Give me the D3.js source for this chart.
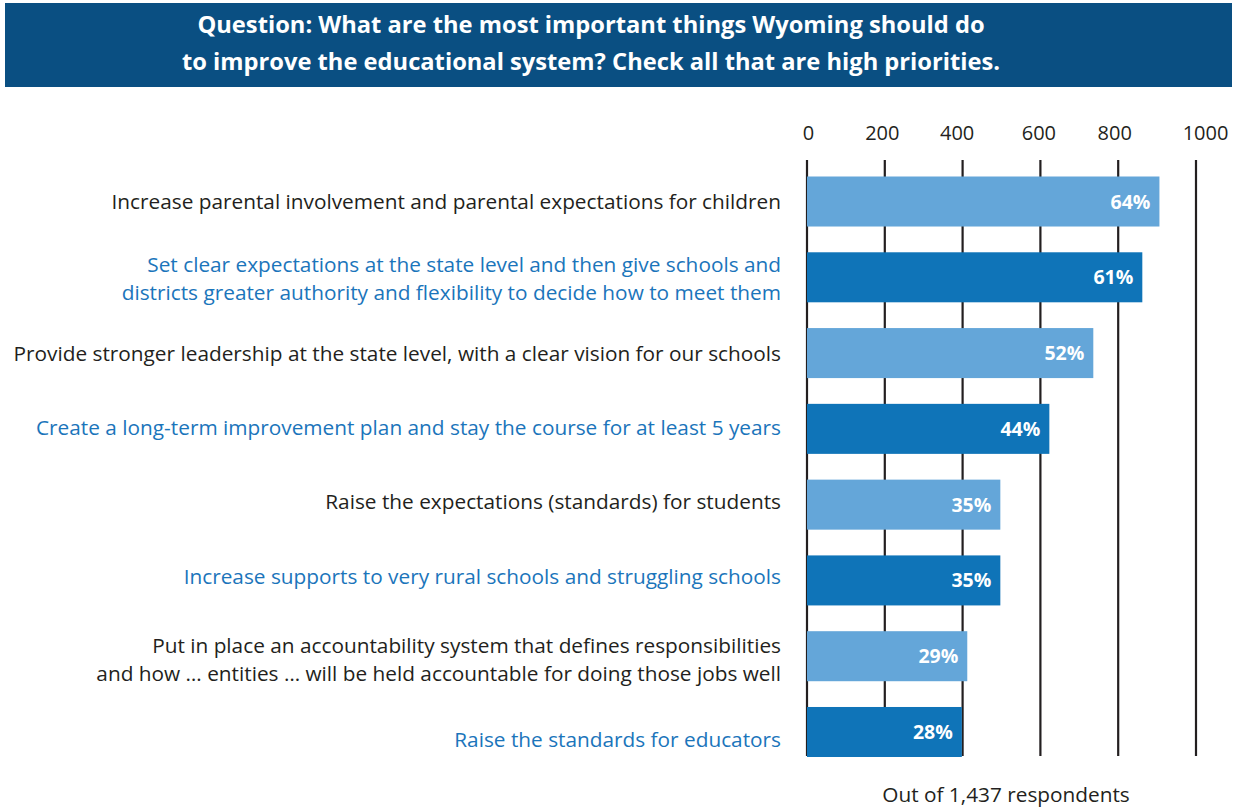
<!DOCTYPE html>
<html>
<head>
<meta charset="utf-8">
<script src="https://cdn.jsdelivr.net/npm/d3@7"></script>
<style>
  html, body { margin: 0; padding: 0; background: #ffffff; }
  svg { display: block; }
</style>
</head>
<body>
<svg id="chart" width="1238" height="809"></svg>
<script>
// Survey question and answer options (each option may span two lines)
const titleLines = [
  "Question: What are the most important things Wyoming should do",
  "to improve the educational system? Check all that are high priorities."
];
const categories = [
  ["Increase parental involvement and parental expectations for children"],
  ["Set clear expectations at the state level and then give schools and",
   "districts greater authority and flexibility to decide how to meet them"],
  ["Provide stronger leadership at the state level, with a clear vision for our schools"],
  ["Create a long-term improvement plan and stay the course for at least 5 years"],
  ["Raise the expectations (standards) for students"],
  ["Increase supports to very rural schools and struggling schools"],
  ["Put in place an accountability system that defines responsibilities",
   "and how \u2026 entities \u2026 will be held accountable for doing those jobs well"],
  ["Raise the standards for educators"]
];
// Number of respondents choosing each option
const counts = [906, 862, 736, 623, 497, 497, 412, 398];
// Share of respondents shown inside each bar
const shares = [64, 61, 52, 44, 35, 35, 29, 28];
const tickValues = [0, 200, 400, 600, 800, 1000];
const footnote = "Out of 1,437 respondents";

// Layout and style
const FONT = "'Open Sans', Lato, sans-serif";
const DARK = "#231f20";
const BLUE_TEXT = "#1b75bb";
const barColors = ["#64a6d9", "#0f74b8"];
const LINE_H = 28;
// small vertical nudges (px) of the category labels relative to bar centres
const labelNudge = [0, 1, 0, -1, -3, -4, 3, 8];
// small horizontal nudges (px) of the tick labels relative to their gridlines
const tickNudge = [1, -3, -6, -2, -4, 9];

const svg = d3.select("#chart");

// Title banner
svg.append("rect")
  .attr("x", 5).attr("y", 3)
  .attr("width", 1227).attr("height", 84)
  .attr("fill", "#0a4f82");

svg.append("g")
  .selectAll("text")
  .data(titleLines)
  .join("text")
  .attr("x", 591)
  .attr("y", (d, i) => 24 + i * 37.5)
  .attr("dy", "0.36em")
  .attr("text-anchor", "middle")
  .attr("fill", "#ffffff")
  .attr("font-family", FONT)
  .attr("font-weight", 700)
  .attr("font-size", 23.7)
  .text(d => d);

// Scales
const x = d3.scaleLinear().domain([0, 1000]).range([807, 1196]);
const y = d3.scaleBand()
  .domain(d3.range(categories.length))
  .range([176.5, 757])
  .paddingInner(0.34)
  .paddingOuter(0);

// Value labels along the top
const axis = d3.axisTop(x)
  .tickValues(tickValues)
  .tickSize(0)
  .tickPadding(0)
  .tickFormat(d3.format("d"));

const gAxis = svg.append("g").attr("transform", "translate(0,133)").call(axis);
gAxis.select(".domain").remove();
gAxis.selectAll("text")
  .attr("font-family", FONT)
  .attr("font-size", 20)
  .attr("fill", DARK)
  .attr("dy", "0.36em")
  .attr("dx", (d, i) => tickNudge[i]);

// Vertical gridlines behind the bars
svg.append("g")
  .selectAll("line")
  .data(tickValues)
  .join("line")
  .attr("x1", d => x(d)).attr("x2", d => x(d))
  .attr("y1", 160).attr("y2", 756)
  .attr("stroke", DARK)
  .attr("stroke-width", 2.2);

// Bars
svg.append("g")
  .selectAll("rect")
  .data(counts)
  .join("rect")
  .attr("x", x(0))
  .attr("y", (d, i) => y(i))
  .attr("width", d => x(d) - x(0))
  .attr("height", y.bandwidth())
  .attr("fill", (d, i) => barColors[i % 2]);

// Percentage labels inside bar ends
svg.append("g")
  .selectAll("text")
  .data(counts)
  .join("text")
  .attr("x", d => x(d) - 9)
  .attr("y", (d, i) => y(i) + y.bandwidth() / 2)
  .attr("dy", "0.36em")
  .attr("text-anchor", "end")
  .attr("fill", "#ffffff")
  .attr("font-family", FONT)
  .attr("font-weight", 700)
  .attr("font-size", 19.5)
  .text((d, i) => shares[i] + "%");

// Category labels, right-aligned beside the bars
const labels = svg.append("g")
  .selectAll("text")
  .data(categories)
  .join("text")
  .attr("text-anchor", "end")
  .attr("font-family", FONT)
  .attr("font-size", 20.8)
  .attr("fill", (d, i) => i % 2 ? BLUE_TEXT : DARK);

labels.each(function(lines, i) {
  const cy = y(i) + y.bandwidth() / 2 + labelNudge[i];
  const top = cy - (lines.length - 1) * LINE_H / 2;
  d3.select(this).selectAll("tspan")
    .data(lines)
    .join("tspan")
    .attr("x", 781)
    .attr("y", (d, j) => top + j * LINE_H)
    .attr("dy", "0.36em")
    .text(d => d);
});

// Footnote
svg.append("text")
  .attr("x", 1006)
  .attr("y", 795)
  .attr("dy", "0.36em")
  .attr("text-anchor", "middle")
  .attr("font-family", FONT)
  .attr("font-size", 20.8)
  .attr("fill", DARK)
  .text(footnote);
</script>
</body>
</html>
